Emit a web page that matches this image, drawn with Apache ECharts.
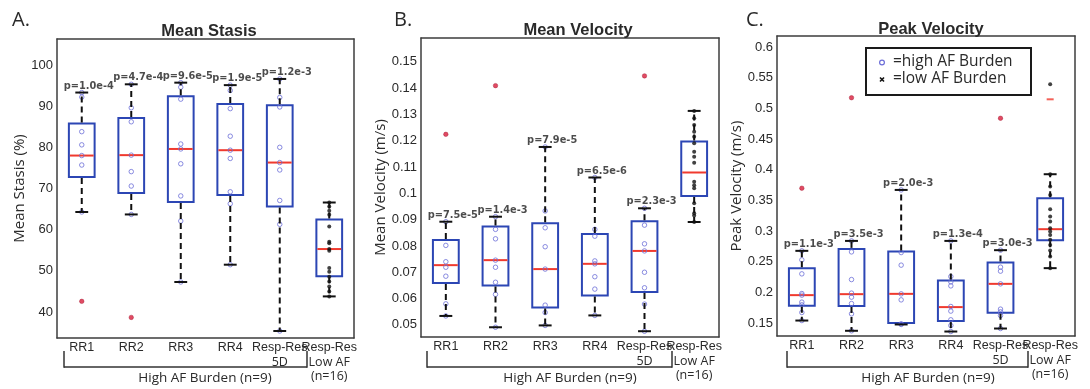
<!DOCTYPE html>
<html><head><meta charset="utf-8">
<script src="https://cdn.jsdelivr.net/npm/echarts@6/dist/echarts.min.js"></script>
<style>html,body{margin:0;padding:0;background:#fff}#c{width:1090px;height:389px}</style>
</head><body><div id="c"></div>
<script>
// ---------- data ----------
const categories = ['RR1', 'RR2', 'RR3', 'RR4', 'Resp-Res\n5D', 'Resp-Res\nLow AF\n(n=16)'];

// Panel A: Mean Stasis (%)  [lowWhisker, Q1, median, Q3, highWhisker]
const stasisBoxes = [
  [64.3, 72.8, 78.0, 85.8, 93.3],
  [63.7, 68.9, 78.1, 87.1, 95.3],
  [47.3, 66.7, 79.6, 92.4, 95.7],
  [51.5, 68.4, 79.3, 90.5, 95.1],
  [35.4, 65.6, 76.3, 90.2, 96.6],
  [43.8, 48.7, 55.3, 62.5, 66.6]
];
const stasisHighPts = [
  [93.3, 92.2, 83.8, 80.6, 78.0, 75.7, 64.3],
  [95.3, 89.6, 86.2, 78.1, 74.1, 70.6, 63.7],
  [95.7, 94.6, 91.7, 80.8, 79.6, 76.0, 68.2, 62.1, 47.3],
  [95.1, 93.8, 89.4, 82.7, 79.3, 77.3, 69.2, 66.3, 51.5],
  [96.6, 92.1, 89.8, 80.0, 76.3, 74.5, 67.1, 61.3, 35.4]
];
const stasisLowPts = [66.6, 65.6, 64.6, 63.6, 60.8, 57.1, 56.7, 55.3, 54.9, 50.7, 49.8, 48.6, 47.4, 46.2, 45.0, 43.8];
const stasisOutliers = [[0, 42.6], [1, 38.7]];
const stasisP = ['p=1.0e-4', 'p=4.7e-4', 'p=9.6e-5', 'p=1.9e-5', 'p=1.2e-3'];
const stasisTicks = [40, 50, 60, 70, 80, 90, 100];

// Panel B: Mean Velocity (m/s)
const meanVelBoxes = [
  [0.0534, 0.0659, 0.0727, 0.0823, 0.0892],
  [0.0491, 0.0650, 0.0746, 0.0874, 0.0911],
  [0.0498, 0.0566, 0.0712, 0.0886, 0.1176],
  [0.0536, 0.0612, 0.0732, 0.0845, 0.1060],
  [0.0476, 0.0625, 0.0781, 0.0894, 0.0943],
  [0.0891, 0.0990, 0.1079, 0.1197, 0.1313]
];
const meanVelHighPts = [
  [0.0892, 0.0802, 0.0740, 0.0719, 0.0685, 0.0580, 0.0534],
  [0.0911, 0.0863, 0.0827, 0.0746, 0.0719, 0.0662, 0.0616, 0.0491],
  [0.1176, 0.0933, 0.0869, 0.0797, 0.0712, 0.0575, 0.0547, 0.0498],
  [0.1060, 0.0863, 0.0837, 0.0743, 0.0732, 0.0683, 0.0636, 0.0536],
  [0.0943, 0.0879, 0.0808, 0.0781, 0.0700, 0.0641, 0.0579, 0.0476]
];
const meanVelLowPts = [0.1313, 0.1285, 0.1259, 0.1234, 0.1215, 0.1190, 0.1158, 0.1139, 0.1116, 0.1044, 0.1031, 0.1019, 0.0962, 0.0924, 0.0916, 0.0891];
const meanVelOutliers = [[0, 0.1224], [1, 0.1409], [4, 0.1446]];
const meanVelP = ['p=7.5e-5', 'p=1.4e-3', 'p=7.9e-5', 'p=6.5e-6', 'p=2.3e-3'];
const meanVelTicks = [0.05, 0.06, 0.07, 0.08, 0.09, 0.1, 0.11, 0.12, 0.13, 0.14, 0.15];

// Panel C: Peak Velocity (m/s)
const peakVelBoxes = [
  [0.1542, 0.1782, 0.1956, 0.2396, 0.2678],
  [0.1375, 0.1777, 0.1972, 0.2710, 0.2840],
  [0.1478, 0.1500, 0.1977, 0.2666, 0.3671],
  [0.1363, 0.1533, 0.1761, 0.2194, 0.2840],
  [0.1412, 0.1668, 0.2140, 0.2487, 0.2689],
  [0.2396, 0.2852, 0.3031, 0.3536, 0.3927]
];
const peakVelHighPts = [
  [0.2678, 0.2531, 0.2303, 0.1982, 0.1956, 0.1842, 0.1798, 0.1673, 0.1542],
  [0.2840, 0.2661, 0.2210, 0.1989, 0.1923, 0.1819, 0.1651, 0.1375],
  [0.3671, 0.2650, 0.2445, 0.1977, 0.1879, 0.1489, 0.1478],
  [0.2840, 0.2259, 0.2173, 0.2107, 0.1771, 0.1696, 0.1554, 0.1461, 0.1363],
  [0.2689, 0.2412, 0.2347, 0.2140, 0.1728, 0.1684, 0.1624, 0.1412]
];
const peakVelLowPts = [0.5393, 0.3927, 0.3725, 0.3590, 0.3357, 0.3236, 0.3155, 0.3047, 0.2992, 0.2938, 0.2857, 0.2775, 0.2683, 0.2585, 0.2396];
const peakVelOutliers = [[0, 0.3699], [1, 0.5174], [4, 0.4839]];
const peakVelLowOutlierMark = [[5, 0.5148]];
const peakVelP = ['p=1.1e-3', 'p=3.5e-3', 'p=2.0e-3', 'p=1.3e-4', 'p=3.0e-3'];
const peakVelTicks = [0.15, 0.2, 0.25, 0.3, 0.35, 0.4, 0.45, 0.5, 0.55, 0.6];

// ---------- styling ----------
const BLUE = '#2c46b4', RED = '#f03a2e', PTBLUE = '#6d6fd8', AX = '#3c3c3c', TXT = '#2a2a2a';
const panels = [
  {grid: {left: 57, top: 39, width: 297, height: 299}, min: 33.7, max: 106.3, ticks: stasisTicks,
   name: 'Mean Stasis (%)', gap: 24, boxes: stasisBoxes, high: stasisHighPts, low: stasisLowPts,
   out: stasisOutliers, p: stasisP, extra: []},
  {grid: {left: 421, top: 38, width: 298, height: 299}, min: 0.0454, max: 0.159, ticks: meanVelTicks,
   name: 'Mean Velocity (m/s)', gap: 33, boxes: meanVelBoxes, high: meanVelHighPts, low: meanVelLowPts,
   out: meanVelOutliers, p: meanVelP, extra: []},
  {grid: {left: 777, top: 36, width: 298, height: 300}, min: 0.129, max: 0.618, ticks: peakVelTicks,
   name: 'Peak Velocity (m/s)', gap: 26, boxes: peakVelBoxes, high: peakVelHighPts, low: peakVelLowPts,
   out: peakVelOutliers, p: peakVelP, extra: peakVelLowOutlierMark}
];

function boxRender(params, api) {
  const c = api.value(0);
  const q1 = api.coord([c, api.value(2)]);
  const md = api.coord([c, api.value(3)]);
  const q3 = api.coord([c, api.value(4)]);
  const bw = api.size([1, 0])[0] * 0.52;
  return {type: 'group', children: [
    {type: 'rect', shape: {x: q3[0] - bw / 2, y: q3[1], width: bw, height: q1[1] - q3[1]},
     style: {fill: 'none', stroke: BLUE, lineWidth: 2}},
    {type: 'line', shape: {x1: md[0] - bw / 2 + 1, y1: md[1], x2: md[0] + bw / 2 - 1, y2: md[1]},
     style: {stroke: RED, lineWidth: 2}}
  ]};
}
function whiskerRender(params, api) {
  const c = api.value(0);
  const lo = api.coord([c, api.value(1)]);
  const q1 = api.coord([c, api.value(2)]);
  const q3 = api.coord([c, api.value(4)]);
  const hi = api.coord([c, api.value(5)]);
  const cw = api.size([1, 0])[0] * 0.13;
  const dash = {stroke: '#111', lineWidth: 2, lineDash: [6, 4]};
  const solid = {stroke: '#111', lineWidth: 2};
  return {type: 'group', children: [
    {type: 'line', shape: {x1: hi[0], y1: q3[1] - 1, x2: hi[0], y2: hi[1]}, style: dash},
    {type: 'line', shape: {x1: lo[0], y1: q1[1] + 1, x2: lo[0], y2: lo[1]}, style: dash},
    {type: 'line', shape: {x1: hi[0] - cw, y1: hi[1], x2: hi[0] + cw, y2: hi[1]}, style: solid},
    {type: 'line', shape: {x1: lo[0] - cw, y1: lo[1], x2: lo[0] + cw, y2: lo[1]}, style: solid}
  ]};
}

const grid = [], xAxis = [], yAxis = [], series = [];
const catLabel = {
  fontFamily: 'Liberation Sans', fontSize: 12.5, color: TXT, margin: 3, interval: 0,
  formatter: function (v) {
    const parts = v.split('\n');
    return parts.map((s, i) => (i === 0 ? '{a|' : '{b|') + s + '}').join('\n');
  },
  rich: {
    a: {fontFamily: 'Liberation Sans', fontSize: 12.5, color: TXT, lineHeight: 14},
    b: {fontFamily: 'Open Sans', fontSize: 12.5, color: TXT, lineHeight: 14}
  }
};
panels.forEach((P, k) => {
  grid.push(Object.assign({show: false}, P.grid));
  const axLine = {show: true, lineStyle: {color: AX, width: 1.5}};
  xAxis.push({type: 'category', gridIndex: k, data: categories, position: 'bottom',
    axisLine: axLine, axisTick: {inside: true, alignWithLabel: true, length: 4, lineStyle: {color: AX, width: 1.2}},
    axisLabel: catLabel, splitLine: {show: false}});
  xAxis.push({type: 'category', gridIndex: k, data: categories, position: 'top',
    axisLine: axLine, axisTick: {inside: true, alignWithLabel: true, length: 4, lineStyle: {color: AX, width: 1.2}},
    axisLabel: {show: false}, splitLine: {show: false}});
  yAxis.push({type: 'value', gridIndex: k, min: P.min, max: P.max, position: 'left',
    name: P.name, nameLocation: 'middle', nameGap: P.gap,
    nameTextStyle: {fontFamily: 'Open Sans', fontSize: 15, color: TXT},
    axisLine: axLine,
    axisTick: {inside: true, length: 4, customValues: P.ticks, lineStyle: {color: AX, width: 1.2}},
    axisLabel: {customValues: P.ticks, fontFamily: 'Liberation Sans', fontSize: 13, color: TXT, margin: 4},
    splitLine: {show: false}});
  yAxis.push({type: 'value', gridIndex: k, min: P.min, max: P.max, position: 'right',
    axisLine: axLine,
    axisTick: {inside: true, length: 4, customValues: P.ticks, lineStyle: {color: AX, width: 1.2}},
    axisLabel: {show: false}, splitLine: {show: false}});

  const xi = 2 * k, yi = 2 * k;
  const boxData = P.boxes.map((b, i) => [i].concat(b));
  series.push({type: 'custom', xAxisIndex: xi, yAxisIndex: yi, renderItem: boxRender,
    encode: {x: 0, y: [1, 2, 3, 4, 5]}, data: boxData, z: 2, silent: true});
  const hp = [];
  P.high.forEach((arr, i) => arr.forEach(v => hp.push([i, v])));
  series.push({type: 'scatter', xAxisIndex: xi, yAxisIndex: yi, data: hp, symbol: 'circle', symbolSize: 4.5,
    itemStyle: {color: 'rgba(255,255,255,0)', borderColor: PTBLUE, borderWidth: 1}, z: 3, silent: true});
  series.push({type: 'custom', xAxisIndex: xi, yAxisIndex: yi, renderItem: whiskerRender,
    encode: {x: 0, y: [1, 2, 3, 4, 5]}, data: boxData, z: 4, silent: true});
  series.push({type: 'scatter', xAxisIndex: xi, yAxisIndex: yi, data: P.low.map(v => [5, v]),
    symbol: 'circle', symbolSize: 4, itemStyle: {color: '#111'}, z: 5, silent: true});
  series.push({type: 'scatter', xAxisIndex: xi, yAxisIndex: yi, data: P.out,
    symbol: 'circle', symbolSize: 4.5, itemStyle: {color: '#d81e3c', borderColor: '#a0102a', borderWidth: 0.5}, z: 5, silent: true});
  if (P.extra.length) {
    series.push({type: 'scatter', xAxisIndex: xi, yAxisIndex: yi, data: P.extra,
      symbol: 'rect', symbolSize: [7, 2], itemStyle: {color: RED}, z: 5, silent: true});
  }
  series.push({type: 'scatter', xAxisIndex: xi, yAxisIndex: yi,
    data: P.p.map((t, i) => [i, P.boxes[i][4], t]), symbolSize: 0, z: 6, silent: true,
    label: {show: true, position: 'top', distance: 1.5, offset: [7, 0], formatter: p => p.data[2],
      fontFamily: 'DejaVu Sans', fontWeight: 'bold', fontSize: 9.8, color: '#1e1e1e'}});
});

function txt(x, y, text, font, align, extra) {
  return Object.assign({type: 'text', x: x, y: y, z: 100,
    style: {text: text, font: font, fill: TXT, align: align || 'center', verticalAlign: 'middle',
      textAlign: align || 'center', textVerticalAlign: 'middle'}}, extra || {});
}
function ln(x1, y1, x2, y2, w, c) {
  return {type: 'line', z: 100, shape: {x1, y1, x2, y2}, style: {stroke: c || '#333', lineWidth: w || 1.5}};
}
const graphic = [
  txt(12, 20, 'A.', '20px "Open Sans"', 'left'),
  txt(394, 20, 'B.', '20px "Open Sans"', 'left'),
  txt(746, 20, 'C.', '20px "Open Sans"', 'left'),
  txt(209, 31, 'Mean Stasis', 'bold 16.5px "Liberation Sans"'),
  txt(578, 30, 'Mean Velocity', 'bold 16.5px "Liberation Sans"'),
  txt(931, 29, 'Peak Velocity', 'bold 16.5px "Liberation Sans"'),
  // brackets
  ln(64, 367, 307, 367), ln(64, 351, 64, 367.7), ln(307, 351, 307, 367.7),
  ln(427, 367, 672, 367), ln(427, 351, 427, 367.7), ln(672, 351, 672, 367.7),
  ln(787, 367, 1028, 367), ln(787, 351, 787, 367.7), ln(1028, 351, 1028, 367.7),
  txt(205, 378, 'High AF Burden (n=9)', '13.5px "Open Sans"'),
  txt(570, 378, 'High AF Burden (n=9)', '13.5px "Open Sans"'),
  txt(928, 378, 'High AF Burden (n=9)', '13.5px "Open Sans"'),
  // legend
  {type: 'rect', z: 99, shape: {x: 866, y: 48, width: 165, height: 47}, style: {fill: '#fff', stroke: '#1a1a1a', lineWidth: 2}},
  {type: 'circle', z: 100, shape: {cx: 882, cy: 62.5, r: 2.4}, style: {fill: 'none', stroke: PTBLUE, lineWidth: 1.2}},
  ln(880, 77.5, 884, 81.5, 1.6, '#111'), ln(880, 81.5, 884, 77.5, 1.6, '#111'),
  txt(893, 62, '=high AF Burden', '15.5px "Open Sans"', 'left'),
  txt(893, 79, '=low AF Burden', '15.5px "Open Sans"', 'left')
];

const chart = echarts.init(document.getElementById('c'), null, {renderer: 'canvas'});
chart.setOption({animation: false, backgroundColor: '#fff', grid, xAxis, yAxis, series, graphic});
</script></body></html>
